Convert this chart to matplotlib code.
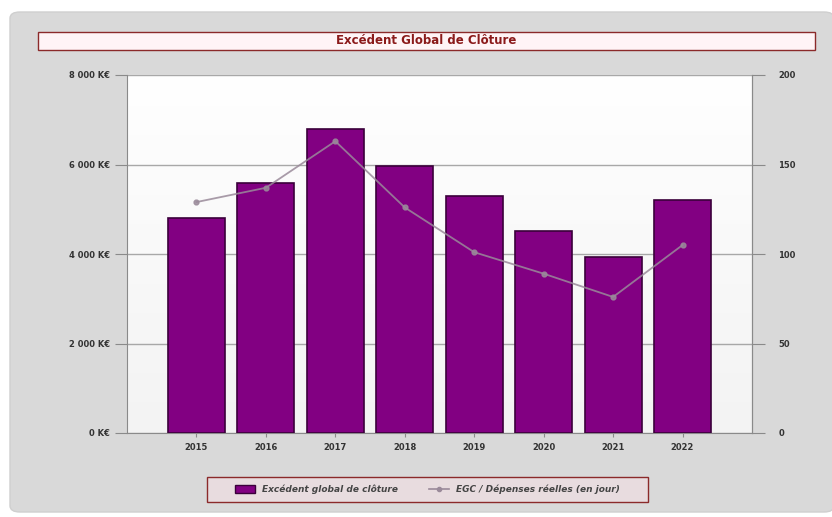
import matplotlib
matplotlib.use("Agg")
import matplotlib.pyplot as plt
import numpy as np
from matplotlib.patches import FancyBboxPatch, Rectangle
from matplotlib.lines import Line2D
from matplotlib.patches import Patch

years = ["2015", "2016", "2017", "2018", "2019", "2020", "2021", "2022"]
egc_values = [4800, 5590, 6790, 5970, 5300, 4510, 3930, 5210]
ratio_days = [129, 137, 163, 126, 101, 89, 76, 105]
left_ticks = [0, 2000, 4000, 6000, 8000]
left_labels = ["0 K€", "2 000 K€", "4 000 K€", "6 000 K€", "8 000 K€"]
right_ticks = [0, 50, 100, 150, 200]
title = "Excédent Global de Clôture"
bar_label = "Excédent global de clôture"
line_label = "EGC / Dépenses réelles (en jour)"

W, H = 832, 517
fig = plt.figure(figsize=(W / 100, H / 100), dpi=100)
fig.patch.set_facecolor("white")

# outer gray panel
panel = FancyBboxPatch((10 / W, 5 / H), (W - 8) / W, (H - 17) / H,
                       boxstyle="round,pad=0,rounding_size=0.012",
                       transform=fig.transFigure, facecolor="#d9d9d9",
                       edgecolor="#cfcfcf", linewidth=1, zorder=-10)
fig.patches.append(panel)

# title box
tb = Rectangle((38 / W, 1 - 50 / H), (815 - 38) / W, 18 / H, transform=fig.transFigure,
               facecolor="#fff4f6", edgecolor="#8b2a2a", linewidth=1, zorder=1)
fig.patches.append(tb)
fig.text((38 + 815) / 2 / W, 1 - 41 / H, title, ha="center", va="center",
         color="#8b1a1a", fontsize=8.5, fontweight="bold")

ax = fig.add_axes([127 / W, 1 - 433 / H, (752 - 127) / W, (433 - 75) / H])
ax.set_zorder(2)
ax.set_facecolor("white")
# subtle gradient background
grad = np.linspace(0, 1, 256).reshape(-1, 1)
ax.imshow(grad, extent=[-1, 8, 0, 8000], aspect="auto",
          cmap=matplotlib.colors.LinearSegmentedColormap.from_list("g", ["#f3f3f3", "#ffffff"]),
          zorder=0, origin="lower")

x = np.arange(len(years))
ax.bar(x, egc_values, width=0.82, color="#820082", edgecolor="#3a003a", linewidth=1.2, zorder=3)
ax.set_xlim(-1, 8)
ax.set_ylim(0, 8000)
ax.set_yticks(left_ticks)
ax.set_yticklabels(left_labels)
ax.set_xticks(x)
ax.set_xticklabels(years)
ax.yaxis.grid(True, color="#a8a8a8", linewidth=1, zorder=1)
ax.set_axisbelow(True)
ax.spines["top"].set_visible(False)
for s in ["left", "bottom", "right"]:
    ax.spines[s].set_color("#8a8a8a")
ax.tick_params(axis="y", length=9, color="#8a8a8a", labelsize=6, labelcolor="#333333", pad=3)
ax.tick_params(axis="x", length=3, color="#8a8a8a", labelsize=6, labelcolor="#333333", pad=4)
for lab in ax.get_yticklabels() + ax.get_xticklabels():
    lab.set_fontweight("bold")

ax2 = ax.twinx()
ax2.set_zorder(3)
ax2.patch.set_visible(False)
ax2.set_ylim(0, 200)
ax2.set_yticks(right_ticks)
ax2.plot(x, ratio_days, color="#9a8a9a", alpha=0.85, linewidth=1.3, marker="o",
         markersize=3.5, zorder=5)
ax2.spines["top"].set_visible(False)
ax2.spines["right"].set_color("#8a8a8a")
ax2.spines["left"].set_visible(False)
ax2.spines["bottom"].set_visible(False)
ax2.tick_params(axis="y", length=9, color="#8a8a8a", labelsize=6, labelcolor="#333333", pad=10)
for lab in ax2.get_yticklabels():
    lab.set_fontweight("bold")

# legend box
lb = Rectangle((207 / W, 1 - 502 / H), (648 - 207) / W, 25 / H, transform=fig.transFigure,
               facecolor="#e8dcdf", edgecolor="#8b2a2a", linewidth=1, zorder=1)
fig.patches.append(lb)
handles = [Patch(facecolor="#820082", edgecolor="#3a003a"),
           Line2D([0], [0], color="#9a8a9a", marker="o", markersize=3, linewidth=1.2)]
leg = fig.legend(handles, [bar_label, line_label], loc="center",
                 bbox_to_anchor=((207 + 648) / 2 / W, 1 - 489.5 / H), ncol=2, frameon=False,
                 prop={"size": 6.5, "weight": "bold", "style": "italic"},
                 handlelength=2.2, handleheight=0.9, columnspacing=3.5)
leg.set_zorder(5)
for t in leg.get_texts():
    t.set_color("#444444")

fig.savefig("out.png", dpi=100)
